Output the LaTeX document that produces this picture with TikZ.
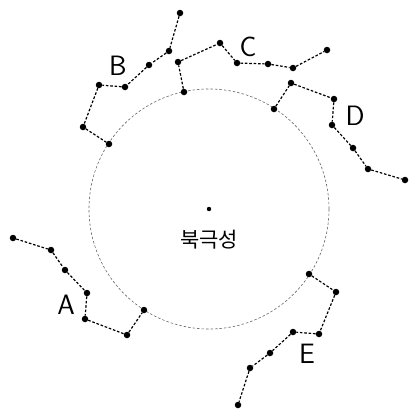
\documentclass[tikz,border=0pt]{standalone}
\usepackage{fontspec}
\setmainfont{Noto Sans}
\newfontfamily\krfont{Noto Sans CJK KR}
\begin{document}
\begin{tikzpicture}[x=1pt,y=-1pt,
  star/.style={circle,fill=black,inner sep=0pt,minimum size=6.5pt},
  cline/.style={line width=1.2pt,dash pattern=on 2.6pt off 1.8pt},
  ring/.style={line width=0.6pt,gray!80!black,dash pattern=on 2.5pt off 2pt},
  lbl/.style={font=\fontsize{28}{30}\selectfont\sffamily\mdseries},
]
\useasboundingbox (0,0) rectangle (411,410);
\coordinate (c) at (209,209);
\draw[ring] (c) circle (120);
\fill (c) circle (2.2);
\node[font=\krfont\fontsize{21}{24}\selectfont] (t) at (209,240) {북극성};
% A
\foreach \n/\x/\y in {a1/13/238,a2/51/250,a3/65/270,a4/87/293,a5/85/319,a6/127/335,a7/144/310}
  \node[star] (\n) at (\x,\y) {};
\draw[cline] (a1)--(a2)--(a3)--(a4)--(a5)--(a6)--(a7);
\node[lbl] (la) at (66,305) {A};
% B
\foreach \n/\x/\y in {b1/180/13,b2/169/51,b3/149/65,b4/125/87,b5/99/85,b6/83/127,b7/109/144}
  \node[star] (\n) at (\x,\y) {};
\draw[cline] (b1)--(b2)--(b3)--(b4)--(b5)--(b6)--(b7);
\node[lbl] (lb) at (118,66) {B};
% C
\foreach \n/\x/\y in {c1/184/92,c2/178/62,c3/220/43,c4/237/63,c5/268/64,c6/293/68,c7/327/50}
  \node[star] (\n) at (\x,\y) {};
\draw[cline] (c1)--(c2)--(c3)--(c4)--(c5)--(c6)--(c7);
\node[lbl] (lc) at (248,47) {C};
% D
\foreach \n/\x/\y in {d1/274/109,d2/291/83,d3/334/99,d4/332/125,d5/353/148,d6/368/169,d7/405/180}
  \node[star] (\n) at (\x,\y) {};
\draw[cline] (d1)--(d2)--(d3)--(d4)--(d5)--(d6)--(d7);
\node[lbl] (ld) at (355,116) {D};
% E
\foreach \n/\x/\y in {e1/309/274,e2/336/292,e3/319/334,e4/293/332,e5/270/353,e6/250/368,e7/238/405}
  \node[star] (\n) at (\x,\y) {};
\draw[cline] (e1)--(e2)--(e3)--(e4)--(e5)--(e6)--(e7);
\node[lbl] (le) at (307,354) {E};
\end{tikzpicture}
\end{document}
